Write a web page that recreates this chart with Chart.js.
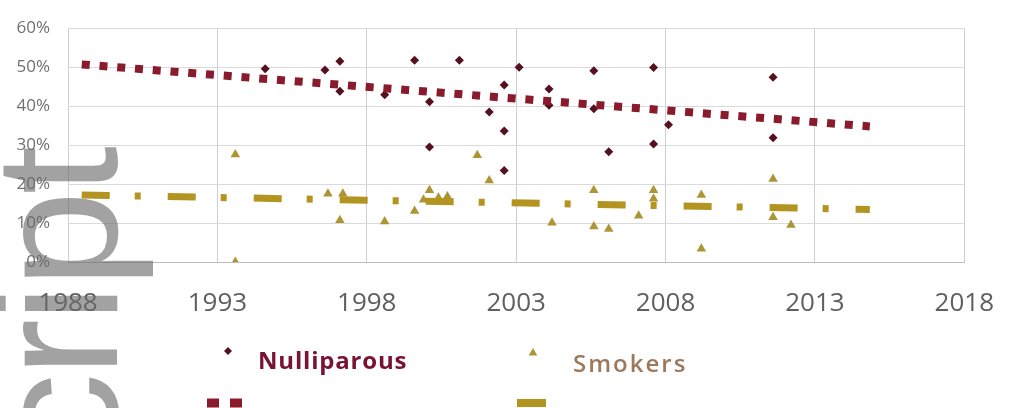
<!DOCTYPE html>
<html>
<head>
<meta charset="utf-8">
<script src="https://cdn.jsdelivr.net/npm/chart.js@4.4.1/dist/chart.umd.min.js"></script>
<style>
  html, body { margin: 0; padding: 0; background: #ffffff; }
  #wrap { position: relative; width: 1020px; height: 408px; }
</style>
</head>
<body>
<div id="wrap"><canvas id="chart"></canvas></div>
<script>
// Series data: study year and share of cohort (%)
const nulliparousYear = [1994.6, 1996.6, 1997.1, 1997.1, 1998.6, 1999.6, 2000.1, 2000.1, 2001.1, 2002.1,
                         2002.6, 2002.6, 2002.6, 2003.1, 2004.1, 2004.1, 2005.6, 2005.6, 2006.1, 2007.6,
                         2007.6, 2008.1, 2011.6, 2011.6];
const nulliparousPct  = [49.6, 49.3, 51.5, 43.8, 42.9, 51.8, 41.1, 29.5, 51.8, 38.5,
                         45.4, 33.6, 23.5, 50.0, 44.4, 40.2, 49.1, 39.3, 28.3, 49.9,
                         30.3, 35.2, 47.4, 31.9];

const smokersYear = [1993.6, 1993.6, 1996.7, 1997.2, 1997.1, 1998.6, 1999.6, 1999.9, 2000.1, 2000.4,
                     2000.7, 2001.7, 2002.1, 2004.2, 2005.6, 2005.6, 2006.1, 2007.1, 2007.6, 2007.6,
                     2009.2, 2009.2, 2011.6, 2011.6, 2012.2];
const smokersPct  = [27.6, 0.0, 17.5, 17.5, 10.7, 10.4, 13.1, 16.0, 18.4, 16.5,
                     16.8, 27.4, 20.9, 10.1, 18.4, 9.1, 8.5, 11.9, 18.4, 16.2,
                     17.2, 3.4, 21.3, 11.5, 9.5];

// Linear trend lines (end points)
const trendYear = [1988.46, 2014.84];
const nulliparousTrendPct = [50.7, 34.8];
const smokersTrendPct = [17.2, 13.5];

// Axis tick labels
const xTickLabels = ['1988', '1993', '1998', '2003', '2008', '2013', '2018'];
const yTickLabels = ['0%', '10%', '20%', '30%', '40%', '50%', '60%'];
const seriesNames = ['Nulliparous', 'Smokers'];

const NULLI_MARK = '#561020';
const NULLI_TREND = '#8a1b2c';
const SMOKE_MARK = '#ad9535';
const SMOKE_TREND = '#b39420';

const toPoints = (xs, ys) => xs.map((x, i) => ({ x: x, y: ys[i] }));

// Legend laid out under the plot: markers on the first row, trend samples below
const bottomLegend = {
  id: 'bottomLegend',
  afterDraw(chart) {
    const ctx = chart.ctx;
    const ds = chart.data.datasets;
    ctx.save();

    ctx.fillStyle = ds[0].backgroundColor;
    ctx.strokeStyle = ds[0].borderColor;
    Chart.helpers.drawPoint(ctx, { pointStyle: ds[0].pointStyle, radius: 4, rotation: 0, borderWidth: 0 }, 228, 351);
    ctx.fillStyle = ds[1].backgroundColor;
    ctx.strokeStyle = ds[1].borderColor;
    Chart.helpers.drawPoint(ctx, { pointStyle: ds[1].pointStyle, radius: 5, rotation: 0, borderWidth: 0 }, 533, 353);

    ctx.textBaseline = 'middle';
    ctx.textAlign = 'left';
    ctx.font = 'bold 24px "Open Sans"';
    ctx.letterSpacing = '0.8px';
    ctx.fillStyle = '#7a1232';
    ctx.fillText(seriesNames[0], 258, 362);
    ctx.font = '600 24px "Open Sans"';
    ctx.letterSpacing = '2px';
    ctx.fillStyle = '#9c785c';
    ctx.fillText(seriesNames[1], 573, 365);
    ctx.letterSpacing = '0px';

    ctx.lineCap = 'butt';
    ctx.strokeStyle = ds[2].borderColor;
    ctx.lineWidth = 9;
    ctx.setLineDash([12, 11]);
    ctx.beginPath(); ctx.moveTo(207, 403); ctx.lineTo(243, 403); ctx.stroke();

    ctx.strokeStyle = ds[3].borderColor;
    ctx.lineWidth = 8;
    ctx.setLineDash([]);
    ctx.beginPath(); ctx.moveTo(517, 403); ctx.lineTo(546, 403); ctx.stroke();
    ctx.restore();
  }
};

// Rotated page watermark along the left edge
const watermark = {
  id: 'watermark',
  afterDraw(chart) {
    const ctx = chart.ctx;
    ctx.save();
    ctx.translate(117, 150);
    ctx.rotate(-Math.PI / 2);
    ctx.font = '175px "Liberation Sans"';
    ctx.letterSpacing = '-4px';
    ctx.textAlign = 'right';
    ctx.textBaseline = 'alphabetic';
    ctx.fillStyle = 'rgba(105,105,105,0.62)';
    ctx.fillText('Accepted Manuscript', 0, 0);
    ctx.restore();
  }
};

new Chart(document.getElementById('chart'), {
  type: 'scatter',
  data: {
    datasets: [
      {
        label: seriesNames[0],
        data: toPoints(nulliparousYear, nulliparousPct),
        pointStyle: 'rectRot',
        pointRadius: 4.5,
        backgroundColor: NULLI_MARK,
        borderColor: NULLI_MARK,
        borderWidth: 0,
        order: 1
      },
      {
        label: seriesNames[1],
        data: toPoints(smokersYear, smokersPct),
        pointStyle: 'triangle',
        pointRadius: 5.5,
        backgroundColor: SMOKE_MARK,
        borderColor: SMOKE_MARK,
        borderWidth: 0,
        order: 1
      },
      {
        label: 'Linear (' + seriesNames[0] + ')',
        data: toPoints(trendYear, nulliparousTrendPct),
        showLine: true,
        pointRadius: 0,
        borderColor: NULLI_TREND,
        borderWidth: 8,
        borderDash: [8, 9.8],
        borderCapStyle: 'butt',
        order: 0
      },
      {
        label: 'Linear (' + seriesNames[1] + ')',
        data: toPoints(trendYear, smokersTrendPct),
        showLine: true,
        pointRadius: 0,
        borderColor: SMOKE_TREND,
        borderWidth: 7,
        borderDash: [28, 25, 6, 27],
        borderCapStyle: 'butt',
        order: 0
      }
    ]
  },
  options: {
    responsive: true,
    maintainAspectRatio: false,
    animation: false,
    layout: { padding: { top: 17, right: 40, bottom: 0, left: 0 } },
    plugins: {
      legend: { display: false },
      tooltip: { enabled: false }
    },
    scales: {
      x: {
        type: 'linear',
        min: 1988,
        max: 2018,
        afterFit(scale) { scale.height = 146; },
        ticks: {
          stepSize: 5,
          padding: 26,
          color: '#5f5f5f',
          font: { family: '"Open Sans"', size: 26 },
          maxRotation: 0,
          callback: (v) => xTickLabels[Math.round((v - 1988) / 5)]
        },
        grid: { color: '#cfcfcf', lineWidth: 1, drawTicks: false },
        border: { color: '#bdbdbd', width: 1 }
      },
      y: {
        min: 0,
        max: 60,
        afterFit(scale) { scale.width = 68; },
        ticks: {
          stepSize: 10,
          padding: 18,
          color: '#707070',
          font: { family: '"Open Sans"', size: 17 },
          callback: (v) => yTickLabels[Math.round(v / 10)]
        },
        grid: { color: '#dadada', lineWidth: 1, drawTicks: false },
        border: { display: false }
      }
    }
  },
  plugins: [bottomLegend, watermark]
});
</script>
</body>
</html>
